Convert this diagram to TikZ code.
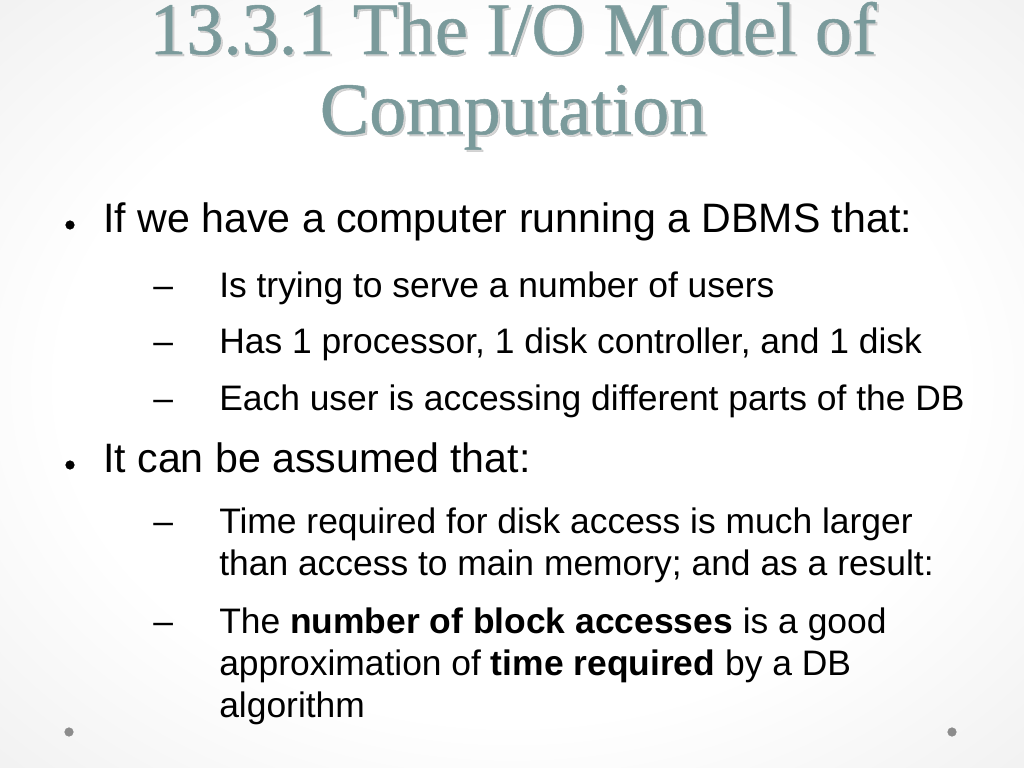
\documentclass[tikz,border=0pt]{standalone}
\usepackage{fontspec}
\setmainfont{Liberation Sans}
\newfontfamily\titlefont[FakeBold=0.7]{Liberation Serif}
\definecolor{titleteal}{HTML}{7A9A9B}
\definecolor{dotgray}{HTML}{8C8C8C}
\pgfdeclareradialshading{slideglow}{\pgfpoint{0bp}{0bp}}{color(0bp)=(white); color(22bp)=(white); color(50bp)=(black!11); color(71bp)=(black!17)}
\begin{document}
\begin{tikzpicture}[x=0.703125pt, y=-0.703125pt,
    title/.style={anchor=base, inner sep=0pt, text=titleteal, font=\titlefont\fontsize{52}{56}\selectfont},
    shadow/.style={title, text=black!35, opacity=0.45},
    point/.style={anchor=base west, inner sep=0pt, font=\fontsize{28.9}{34}\selectfont},
    subpoint/.style={anchor=base west, inner sep=0pt, font=\fontsize{24.9}{29}\selectfont}]
    \useasboundingbox (0,0) rectangle (1024,768);
    \shade[shading=slideglow] (0,0) rectangle (1024,768);

    % title
    \node[shadow] at (515,56) {13.3.1 The I/O Model of};
    \node[shadow] at (515,136) {Computation};
    \node[title] (title1) at (513,54) {13.3.1 The I/O Model of};
    \node[title] (title2) at (513,134) {Computation};

    % first point
    \filldraw[black] (70,225) circle (3pt);
    \node[point] (p1) at (103,233) {If we have a computer running a DBMS that:};
    \node[subpoint] (d1) at (153,297) {–};
    \node[subpoint] (s1) at (219,297) {Is trying to serve a number of users};
    \node[subpoint] (d2) at (153,353) {–};
    \node[subpoint] (s2) at (219,353) {Has 1 processor, 1 disk controller, and 1 disk};
    \node[subpoint] (d3) at (153,410) {–};
    \node[subpoint] (s3) at (219,410) {Each user is accessing different parts of the DB};

    % second point
    \filldraw[black] (70,465) circle (3pt);
    \node[point] (p2) at (103,472) {It can be assumed that:};
    \node[subpoint] (d4) at (153,533) {–};
    \node[subpoint] (s4a) at (219,533) {Time required for disk access is much larger};
    \node[subpoint] (s4b) at (219,575) {than access to main memory; and as a result:};
    \node[subpoint] (d5) at (153,633) {–};
    \node[subpoint] (s5a) at (219,633) {The \textbf{number of block accesses} is a good};
    \node[subpoint] (s5b) at (219,675) {approximation of \textbf{time required} by a DB};
    \node[subpoint] (s5c) at (219,717) {algorithm};

    % corner dots
    \filldraw[dotgray] (69,732) circle (3pt);
    \filldraw[dotgray] (952,732) circle (3pt);
\end{tikzpicture}
\end{document}
